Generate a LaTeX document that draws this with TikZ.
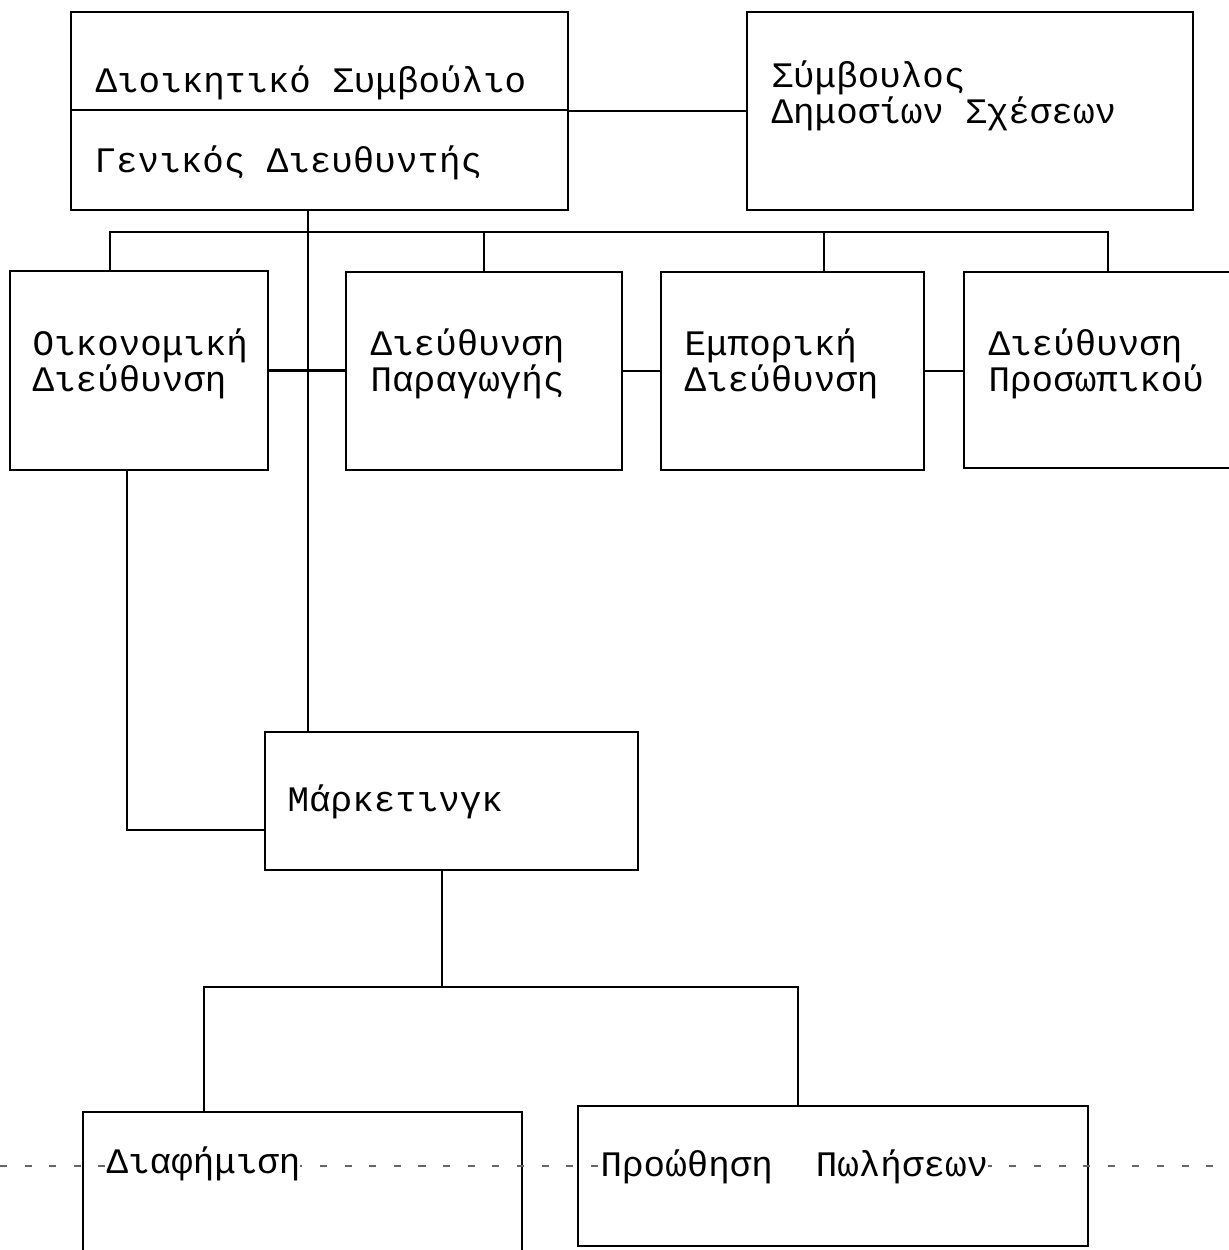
\documentclass[tikz,border=0pt]{standalone}
\usepackage{fontspec}
\setmonofont{Liberation Mono}
\usetikzlibrary{positioning, calc, fit}
\tikzset{
    unit/.style={draw, line width=0.7pt, inner sep=0pt},
    txt/.style={font=\ttfamily\fontsize{10.2}{10.2}\selectfont, inner sep=0pt, anchor=base west, align=left},
    link/.style={line width=0.7pt},
    scanline/.style={line width=0.35pt, black!60, dash pattern=on 2pt off 5pt},
}
\newcommand{\orgunit}[5]{
    \coordinate (#1-nw) at (#2,#3);
    \coordinate (#1-se) at (#4,#5);
    \node[unit, fit=(#1-nw) (#1-se)] (#1) {};
}

\begin{document}
\begin{tikzpicture}[x=0.01cm, y=-0.01cm]
                \useasboundingbox (0,0) rectangle (1229,1250);
                \clip (0,0) rectangle (1229,1250);
                \orgunit{board}{71}{12}{568}{110}
                \orgunit{gm}{71}{110}{568}{210}
                \orgunit{pr}{747}{12}{1193}{210}
                \orgunit{fin}{10}{271}{268}{470}
                \orgunit{prod}{346}{272}{622}{470}
                \orgunit{com}{661}{272}{924}{470}
                \orgunit{hr}{964}{272}{1260}{468}
                \orgunit{mkt}{265}{732}{638}{870}
                \orgunit{ad}{83}{1112}{522}{1290}
                \orgunit{promo}{578}{1106}{1088}{1246}
                \coordinate (bus) at (308,232);
                \coordinate (busL) at (110,232);
                \coordinate (busR) at (1108,232);
                \coordinate (comdrop) at (824,232);
                \coordinate (finleg) at (127,830);
                \coordinate (mktleg) at (442,987);
                \coordinate (subL) at (204,987);
                \coordinate (subR) at (798,987);
                \draw[link] (board.south east) -- (board.south east -| pr.west);
                \draw[link] (gm.south -| bus) -- (bus |- mkt.north);
                \draw[link] (busL |- fin.north) -- (busL) -- (busR) -- (busR |- hr.north);
                \draw[link] (prod.north) -- (prod.north |- bus);
                \draw[link] (comdrop) -- (comdrop |- com.north);
                \draw[link] (fin.east) -- (fin.east -| prod.west);
                \draw[link] (prod.east) -- (prod.east -| com.west);
                \draw[link] (com.east) -- (com.east -| hr.west);
                \draw[link] (finleg |- fin.south) -- (finleg) -- (finleg -| mkt.west);
                \draw[link] (mktleg |- mkt.south) -- (mktleg);
                \draw[link] (subL |- ad.north) -- (subL) -- (subR) -- (subR |- promo.north);
                \draw[scanline] (0,1166) -- (1229,1166);
                % multi-line texts are placed at the baseline of their last line
                \node[txt] (t-board) at (95,92) {Διοικητικό Συμβούλιο};
                \node[txt] (t-gm) at (94,172) {Γενικός Διευθυντής};
                \node[txt] (t-pr) at (771,123) {Σύμβουλος\\Δημοσίων Σχέσεων};
                \node[txt] (t-fin) at (32,391) {Οικονομική\\Διεύθυνση};
                \node[txt] (t-prod) at (370,391) {Διεύθυνση\\Παραγωγής};
                \node[txt] (t-com) at (684,391) {Εμπορική\\Διεύθυνση};
                \node[txt] (t-hr) at (988,391) {Διεύθυνση\\Προσωπικού};
                \node[txt] (t-mkt) at (287,811) {Μάρκετινγκ};
                \node[txt, fill=white] (t-ad) at (106,1173) {Διαφήμιση};
                \node[txt, fill=white] (t-promo) at (600,1176) {Προώθηση\ \ Πωλήσεων};
            \end{tikzpicture}
\end{document}
